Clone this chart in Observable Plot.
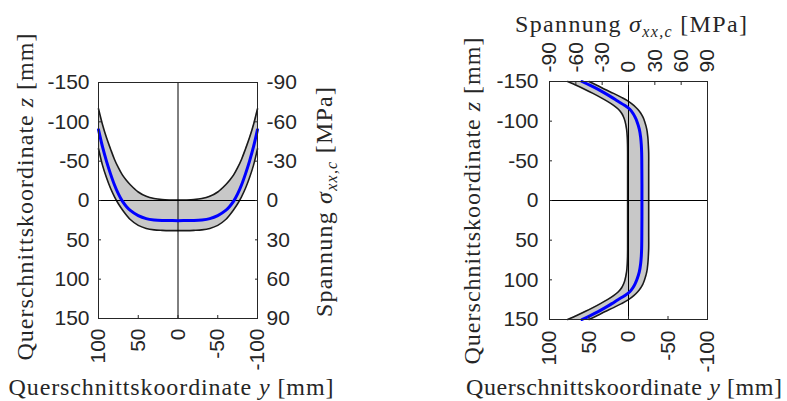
<!DOCTYPE html>
<html><head><meta charset="utf-8">
<script src="https://cdn.jsdelivr.net/npm/d3@7"></script>
<script src="https://cdn.jsdelivr.net/npm/@observablehq/plot@0.6"></script>
<style>
body{margin:0;background:#fff;}
#wrap{position:relative;width:787px;height:401px;overflow:hidden;background:#fff;}
#wrap svg{position:absolute;top:0;overflow:visible;}
</style></head><body><div id="wrap"></div>
<script>
// ---- Left panel: stress over the cross-section coordinate y ----
const yPos  = [-100,-95,-90,-85,-80,-75,-70,-65,-60,-50,-40,-30,-20,-10,0,10,20,30,40,50,60,65,70,75,80,85,90,95,100];
const yMean = [-54,-41,-30,-20.5,-12,-5,0.5,4.5,7.5,11.5,13.8,14.8,15.2,15.3,15.4,15.3,15.2,14.8,13.8,11.5,7.5,4.5,0.5,-5,-12,-20.5,-30,-41,-54];
const yMin  = [-70,-58,-48,-39.5,-31.5,-25,-19.5,-15.5,-12,-6.5,-3.2,-1.5,-0.7,-0.4,-0.3,-0.4,-0.7,-1.5,-3.2,-6.5,-12,-15.5,-19.5,-25,-31.5,-39.5,-48,-58,-70];
const yMax  = [-39.5,-27,-17.5,-9.5,-3,2.5,7,11,14.5,19,21.3,22.4,22.8,23,23,23,22.8,22.4,21.3,19,14.5,11,7,2.5,-3,-9.5,-17.5,-27,-39.5];

// ---- Right panel: stress over the cross-section coordinate z ----
const zPos  = [-150,-145,-140,-135,-130,-125,-120,-115,-110,-105,-100,-90,-80,-70,-60,-40,-20,0,20,40,60,70,80,90,100,105,110,115,120,125,130,135,140,145,150];
const zMean = [-53,-43.5,-34.5,-26.5,-19,-12,-4.5,1.5,5,7.5,9.5,12.3,13.8,14.6,15,15.2,15.3,15.3,15.3,15.2,15,14.6,13.8,12.3,9.5,7.5,5,1.5,-4.5,-12,-19,-26.5,-34.5,-43.5,-53];
const zMin  = [-69.3,-59,-49.5,-40.5,-32,-24,-17,-11.5,-7.8,-5.5,-4,-2.2,-1.4,-1.1,-1,-1,-1,-1,-1,-1,-1,-1.1,-1.4,-2.2,-4,-5.5,-7.8,-11.5,-17,-24,-32,-40.5,-49.5,-59,-69.3];
const zMax  = [-45,-35.5,-26.5,-17,-8,0,6,10.5,14,16.5,18.3,20.8,22,22.6,23,23,23,23,23,23,23,22.6,22,20.8,18.3,16.5,14,10.5,6,0,-8,-17,-26.5,-35.5,-45];

// ---- tick values ----
const zTicks = [-150,-100,-50,0,50,100,150];
const stressTicks = [-90,-60,-30,0,30,60,90];
const yTicks = [100,50,0,-50,-100];

const leftData = yPos.map((p,i)=>({pos:p, mean:yMean[i], lo:yMin[i], hi:yMax[i]}));
const rightData = zPos.map((p,i)=>({pos:p, mean:zMean[i], lo:zMin[i], hi:zMax[i]}));

const band = "#c8c8c8", edge = "#1a1a1a", blue = "#0000ff", ink = "#262626";
const tickFont = {fontFamily:"'Liberation Sans', Arial, sans-serif", fontSize:"21px", color:ink, background:"transparent", overflow:"visible"};
const fmt = d => String(d);

const left = Plot.plot({
  width: 393, height: 401,
  marginLeft: 98, marginRight: 136, marginTop: 82, marginBottom: 83,
  x: {domain: [100,-100]},
  y: {domain: [90,-90]},
  style: tickFont,
  marks: [
    Plot.areaY(leftData, {x:"pos", y1:"lo", y2:"hi", fill:band, curve:"catmull-rom"}),
    Plot.line(leftData, {x:"pos", y:"lo", stroke:edge, strokeWidth:1.6, curve:"catmull-rom"}),
    Plot.line(leftData, {x:"pos", y:"hi", stroke:edge, strokeWidth:1.6, curve:"catmull-rom"}),
    Plot.ruleY([0], {stroke:"black", strokeWidth:1}),
    Plot.ruleX([0], {stroke:"black", strokeWidth:1}),
    Plot.line(leftData, {x:"pos", y:"mean", stroke:blue, strokeWidth:3, curve:"catmull-rom"}),
    Plot.frame({stroke:ink}),
    Plot.axisY(zTicks.map(z => z*0.6), {anchor:"left", tickSize:-3, tickPadding:12, tickFormat: d => String(Math.round(d/0.6)), label:null}),
    Plot.axisY(stressTicks, {anchor:"right", tickSize:-3, tickPadding:12, tickFormat: fmt, label:null}),
    Plot.axisX(yTicks, {anchor:"bottom", tickSize:-3, tickPadding:13, tickRotate:-90, tickFormat: fmt, label:null})
  ]
});

const right = Plot.plot({
  width: 394, height: 401,
  marginLeft: 156, marginRight: 80, marginTop: 81, marginBottom: 82,
  x: {domain: [-90,90]},
  y: {domain: [150,-150]},
  style: tickFont,
  marks: [
    Plot.areaX(rightData, {y:"pos", x1:"lo", x2:"hi", fill:band, curve:"catmull-rom"}),
    Plot.line(rightData, {x:"lo", y:"pos", stroke:edge, strokeWidth:1.6, curve:"catmull-rom"}),
    Plot.line(rightData, {x:"hi", y:"pos", stroke:edge, strokeWidth:1.6, curve:"catmull-rom"}),
    Plot.ruleY([0], {stroke:"black", strokeWidth:1}),
    Plot.ruleX([0], {stroke:"black", strokeWidth:1}),
    Plot.line(rightData, {x:"mean", y:"pos", stroke:blue, strokeWidth:3, curve:"catmull-rom"}),
    Plot.frame({stroke:ink}),
    Plot.axisY(zTicks, {anchor:"left", tickSize:-3, tickPadding:14, tickFormat: fmt, label:null}),
    Plot.axisX(stressTicks, {anchor:"top", tickSize:-3, tickPadding:12, tickRotate:-90, tickFormat: fmt, label:null}),
    Plot.axisX(yTicks.map(v => -v*0.9), {anchor:"bottom", tickSize:-3, tickPadding:14, tickRotate:-90, tickFormat: d => String(Math.round(-d/0.9) + 0), label:null})
  ]
});

const wrap = document.getElementById("wrap");
left.style.left = "0px";
right.style.left = "393px";
wrap.appendChild(left);
wrap.appendChild(right);

// ---- axis titles (serif, with math italics) ----
const coordZ = [{t:"Querschnittskoordinate "},{t:"z",i:true},{t:" [mm]"}];
const coordY = [{t:"Querschnittskoordinate "},{t:"y",i:true},{t:" [mm]"}];
const stress = [{t:"Spannung "},{t:"σ",i:true},{t:"xx,c",i:true,sub:true},{t:" [MPa]"}];

function addLabel(svg, x, y, rot, parts, len) {
  const t = d3.select(svg).append("text")
    .attr("transform", `translate(${x},${y})` + (rot ? ` rotate(${rot})` : ""))
    .attr("text-anchor", "middle")
    .attr("font-family", "'Liberation Serif', 'Times New Roman', serif")
    .attr("font-size", 24)
    .attr("fill", ink)
    .attr("textLength", len);
  let shifted = false;
  parts.forEach(p => {
    const s = t.append("tspan").text(p.t);
    if (p.i) s.attr("font-style", "italic");
    if (p.sub) { s.attr("font-size", 16).attr("dy", 5); shifted = true; }
    else if (shifted) { s.attr("dy", -5); shifted = false; }
  });
}
addLabel(left, 33, 197, -90, coordZ, 327);
addLabel(left, 332, 202, -90, stress, 230);
addLabel(left, 171, 395, 0, coordY, 325);
addLabel(right, 87, 201, -90, coordZ, 327);
addLabel(right, 238, 32, 0, stress, 232);
addLabel(right, 231, 395, 0, coordY, 316);
</script>
</body></html>
